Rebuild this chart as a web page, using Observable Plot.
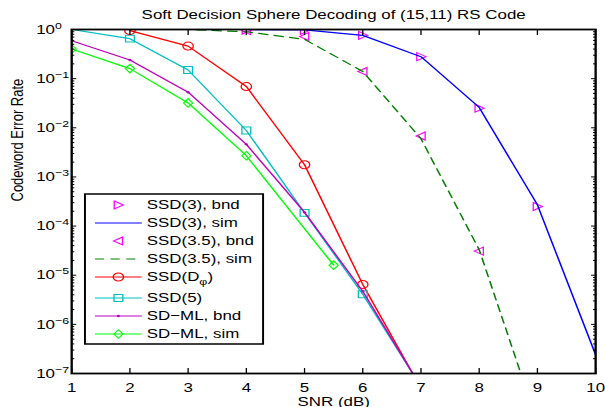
<!DOCTYPE html>
<html>
<head>
<meta charset="utf-8">
<script src="https://cdn.jsdelivr.net/npm/d3@7"></script>
<script src="https://cdn.jsdelivr.net/npm/@observablehq/plot@0.6"></script>
<style>
html, body { margin: 0; padding: 0; background: #fff; overflow: hidden; }
#chart { width: 605px; height: 407px; }
</style>
</head>
<body>
<div id="chart"></div>
<script>
// ---- data ----
const titleText = "Soft Decision Sphere Decoding of (15,11) RS Code";
const xLabelText = "SNR (dB)";
const yLabelText = "Codeword Error Rate";

const xTicks = [1, 2, 3, 4, 5, 6, 7, 8, 9, 10];
const yExponents = [0, -1, -2, -3, -4, -5, -6, -7];

const ssd3SimSnr = [1, 2, 3, 4, 5, 6, 7, 8, 9, 10];
const ssd3Sim    = [1, 1, 1, 1, 0.98, 0.76, 0.28, 0.026, 2.7e-4, 2.4e-7];

const ssd3BndSnr = [4, 5, 6, 7, 8, 9];
const ssd3Bnd    = [0.97, 0.96, 0.76, 0.28, 0.025, 2.5e-4];

const ssd35SimSnr = [1, 2, 3, 4, 5, 6, 7, 8, 9];
const ssd35Sim    = [1, 1, 1, 0.9, 0.63, 0.14, 6e-3, 3.3e-5, 1e-8];

const ssd35BndSnr = [4, 5, 6, 7, 8];
const ssd35Bnd    = [0.95, 0.72, 0.14, 6.8e-3, 3.1e-5];

const ssdDSnr = [2, 3, 4, 5, 6, 7];
const ssdD    = [0.95, 0.46, 0.069, 1.77e-3, 6.5e-6, 5e-8];

const ssd5Snr = [1, 2, 3, 4, 5, 6, 7];
const ssd5    = [1, 0.65, 0.15, 8.8e-3, 1.86e-4, 4.1e-6, 5.4e-8];

const sdmlBndSnr = [1, 2, 3, 4, 5, 6, 7];
const sdmlBnd    = [0.59, 0.24, 0.053, 4.6e-3, 1.9e-4, 4.7e-6, 5.3e-8];

const sdmlSimSnr = [1, 2, 3, 4, 5.5];
const sdmlSim    = [0.4, 0.16, 0.032, 2.7e-3, 1.6e-5];

const legendLabels = ["SSD(3), bnd", "SSD(3), sim", "SSD(3.5), bnd", "SSD(3.5), sim",
                      "SSD(D_φ)", "SSD(5)", "SD\u2212ML, bnd", "SD\u2212ML, sim"];

// ---- helpers ----
const pts = (xs, ys) => xs.map((x, i) => ({x, y: ys[i]}));
const s3s = pts(ssd3SimSnr, ssd3Sim);
const s3b = pts(ssd3BndSnr, ssd3Bnd);
const s35s = pts(ssd35SimSnr, ssd35Sim);
const s35b = pts(ssd35BndSnr, ssd35Bnd);
const sD = pts(ssdDSnr, ssdD);
const s5 = pts(ssd5Snr, ssd5);
const mlB = pts(sdmlBndSnr, sdmlBnd);
const mlS = pts(sdmlSimSnr, sdmlSim);

const yMajors = yExponents.map(e => Math.pow(10, e));
const yMinors = [];
for (let e = -7; e < 0; e++) for (let k = 2; k <= 9; k++) yMinors.push(k * Math.pow(10, e));

const FONT = "'Liberation Sans', Arial, Helvetica, sans-serif";
const C = {mag: "#ff00ff", blue: "#0000ff", dgreen: "#008000", red: "#ff0000",
           cyan: "#00bfbf", purple: "#bf00bf", green: "#00ff00"};

const triRight = {draw(c) { c.moveTo(-3.2, -4); c.lineTo(3.8, 0); c.lineTo(-3.2, 4); c.closePath(); }};
const triLeft  = {draw(c) { c.moveTo(3.2, -4); c.lineTo(-3.8, 0); c.lineTo(3.2, 4); c.closePath(); }};
const sq       = {draw(c) { c.rect(-3.4, -3.4, 6.8, 6.8); }};
const dia      = {draw(c) { c.moveTo(0, -4.3); c.lineTo(3.5, 0); c.lineTo(0, 4.3); c.lineTo(-3.5, 0); c.closePath(); }};
const circ     = {draw(c) { c.moveTo(4, 0); c.arc(0, 0, 4, 0, 2 * Math.PI); c.closePath(); }};
const pt       = {draw(c) { c.moveTo(1.2, 0); c.arc(0, 0, 1.2, 0, 2 * Math.PI); c.closePath(); }};

const W = 465, H = 407;
const LW = 1.2;
const base = {x: "x", y: "y", clip: true};

const svg = Plot.plot({
  width: W, height: H,
  marginLeft: 54.6, marginRight: 7.7, marginTop: 29, marginBottom: 34,
  x: {domain: [1, 10], axis: null},
  y: {type: "log", domain: [1e-7, 1], axis: null},
  style: {fontFamily: FONT, fontSize: "13px", color: "black", background: "white", overflow: "visible"},
  marks: [
    Plot.dot(s3b, {...base, symbol: triRight, stroke: C.mag, fill: "none", strokeWidth: 1, r: 4}),
    Plot.line(s3s, {...base, stroke: C.blue, strokeWidth: LW}),
    Plot.dot(s35b, {...base, symbol: triLeft, stroke: C.mag, fill: "none", strokeWidth: 1, r: 4}),
    Plot.line(s35s, {...base, stroke: C.dgreen, strokeWidth: LW, strokeDasharray: "7,5"}),
    Plot.line(sD, {...base, stroke: C.red, strokeWidth: LW}),
    Plot.dot(sD, {...base, symbol: circ, stroke: C.red, fill: "none", strokeWidth: 1, r: 4}),
    Plot.line(s5, {...base, stroke: C.cyan, strokeWidth: LW}),
    Plot.dot(s5, {...base, filter: d => d.y < 1, symbol: sq, stroke: C.cyan, fill: "none", strokeWidth: 1, r: 4}),
    Plot.line(mlB, {...base, stroke: C.purple, strokeWidth: LW}),
    Plot.dot(mlB, {...base, symbol: pt, fill: C.purple, stroke: "none", r: 2}),
    Plot.line(mlS, {...base, stroke: C.green, strokeWidth: LW}),
    Plot.dot(mlS, {...base, symbol: dia, stroke: C.green, fill: "none", strokeWidth: 1, r: 4}),

    // inward ticks
    Plot.axisX(xTicks, {anchor: "bottom", tickSize: 5, dy: -5, tickFormat: () => "", label: null, strokeWidth: 1}),
    Plot.axisX(xTicks, {anchor: "top", tickSize: 5, dy: 5, tickFormat: () => "", label: null, strokeWidth: 1}),
    Plot.axisY(yMajors, {anchor: "left", tickSize: 4, dx: 4, tickFormat: () => "", label: null, strokeWidth: 1}),
    Plot.axisY(yMajors, {anchor: "right", tickSize: 4, dx: -4, tickFormat: () => "", label: null, strokeWidth: 1}),
    Plot.axisY(yMinors, {anchor: "left", tickSize: 2.5, dx: 2.5, tickFormat: () => "", label: null, strokeWidth: 1}),
    Plot.axisY(yMinors, {anchor: "right", tickSize: 2.5, dx: -2.5, tickFormat: () => "", label: null, strokeWidth: 1}),
    Plot.frame({stroke: "black", strokeWidth: 1.8}),

    // tick labels
    Plot.text(xTicks, {x: d => d, frameAnchor: "bottom", dy: 14.8, lineAnchor: "middle", text: d => String(d),
                       fontSize: 13, fontFamily: FONT, fill: "black"}),
    Plot.text(yMajors, {y: d => d, frameAnchor: "left", dx: -27.3, textAnchor: "start", lineAnchor: "middle",
                        text: d => "10^" + Math.round(Math.log10(d)), fontSize: 13, fontFamily: FONT,
                        fill: "black"}),
    // axis labels and title
    Plot.text([xLabelText], {frameAnchor: "bottom", dy: 28.3, lineAnchor: "middle", text: d => d,
                             fontSize: 13, fontFamily: FONT, fill: "black"}),
    Plot.text([yLabelText], {frameAnchor: "left", dx: -41.3, rotate: -90, lineAnchor: "middle", text: d => d,
                             fontSize: 13, fontFamily: FONT, fill: "black"}),
    Plot.text([titleText], {frameAnchor: "top", dy: -14.5, lineAnchor: "middle", text: d => d,
                            fontSize: 13, fontFamily: FONT, fill: "black"})
  ]
});

// superscript exponents on the y tick labels
d3.select(svg).selectAll("text").each(function () {
  const t = this.textContent;
  if (!/^10\^/.test(t)) return;
  const e = t.split("^")[1].replace("-", "\u2212");
  while (this.firstChild) this.removeChild(this.firstChild);
  const s = d3.select(this);
  s.append("tspan").text("10");
  s.append("tspan").attr("dy", "-5").attr("font-size", "9.5px").text(e);
});

// legend
const legendItems = [
  {label: legendLabels[0], color: C.mag, line: false, sym: triRight, fill: "none"},
  {label: legendLabels[1], color: C.blue, line: true, sym: null},
  {label: legendLabels[2], color: C.mag, line: false, sym: triLeft, fill: "none"},
  {label: legendLabels[3], color: C.dgreen, line: true, dash: "7,5", sym: null},
  {label: legendLabels[4], color: C.red, line: true, sym: circ, fill: "none"},
  {label: legendLabels[5], color: C.cyan, line: true, sym: sq, fill: "none"},
  {label: legendLabels[6], color: C.purple, line: true, sym: pt, fill: C.purple},
  {label: legendLabels[7], color: C.green, line: true, sym: dia, fill: "none"}
];
const rowY = [205, 223, 241, 259, 277, 298, 316, 334];
const lg = d3.select(svg).append("g").attr("font-family", FONT).attr("font-size", 13)
  .attr("text-anchor", "start");
lg.append("rect").attr("x", 65.3).attr("y", 194).attr("width", 136.9).attr("height", 150)
  .attr("fill", "white").attr("stroke", "black").attr("stroke-width", 1.5);
legendItems.forEach((it, i) => {
  const y = rowY[i];
  if (it.line) {
    lg.append("line").attr("x1", 73).attr("x2", 109).attr("y1", y).attr("y2", y)
      .attr("stroke", it.color).attr("stroke-width", LW)
      .attr("stroke-dasharray", it.dash || null);
  }
  if (it.sym) {
    lg.append("path").attr("d", d3.symbol(it.sym)()).attr("transform", `translate(91,${y})`)
      .attr("stroke", it.fill === "none" ? it.color : "none").attr("fill", it.fill).attr("stroke-width", 1);
  }
  const tx = lg.append("text").attr("x", 112.8).attr("y", y + 4.5).attr("fill", "black")
    .attr("text-anchor", "start");
  if (it.label.includes("_")) {
    const [a, rest] = it.label.split("_");
    tx.append("tspan").text(a);
    tx.append("tspan").attr("dy", 4).attr("font-size", "9.5px").text(rest.replace(")", ""));
    tx.append("tspan").attr("dy", -4).text(")");
  } else {
    tx.text(it.label);
  }
});

// horizontal stretch to the reference's aspect
svg.setAttribute("viewBox", `0 0 ${W} ${H}`);
svg.setAttribute("width", 605);
svg.setAttribute("height", 407);
svg.setAttribute("preserveAspectRatio", "none");
svg.style.width = "605px";
svg.style.height = "407px";
svg.style.maxWidth = "none";
document.getElementById("chart").appendChild(svg);
</script>
</body>
</html>
